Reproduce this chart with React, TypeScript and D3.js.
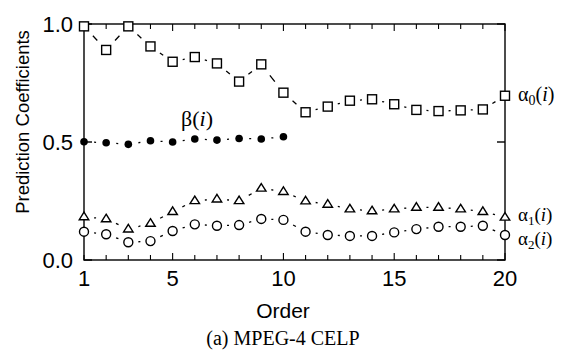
import React from "react";
import * as d3 from "d3";

const orders = [1, 2, 3, 4, 5, 6, 7, 8, 9, 10, 11, 12, 13, 14, 15, 16, 17, 18, 19, 20];
const alpha0 = [0.99, 0.89, 0.99, 0.905, 0.84, 0.86, 0.833, 0.756, 0.829, 0.709, 0.626, 0.65, 0.675, 0.681, 0.66, 0.636, 0.631, 0.634, 0.638, 0.696];
const alpha1 = [0.183, 0.174, 0.131, 0.155, 0.205, 0.251, 0.258, 0.251, 0.304, 0.29, 0.25, 0.236, 0.216, 0.208, 0.216, 0.223, 0.223, 0.216, 0.205, 0.181];
const alpha2 = [0.12, 0.109, 0.075, 0.08, 0.123, 0.151, 0.145, 0.148, 0.174, 0.17, 0.12, 0.106, 0.102, 0.102, 0.117, 0.131, 0.141, 0.141, 0.145, 0.106];
const betaOrders = [1, 2, 3, 4, 5, 6, 7, 8, 9, 10];
const beta = [0.501, 0.497, 0.49, 0.505, 0.5, 0.513, 0.508, 0.515, 0.513, 0.522];
const xTickLabels = [1, 5, 10, 15, 20];
const yTickLabels = [0.0, 0.5, 1.0];

const W = 563;
const H = 356;
const left = 84;
const right = 505;
const top = 24;
const bottom = 260;

const SANS = "'Liberation Sans', Arial, Helvetica, sans-serif";
const SERIF = "'Liberation Serif', 'Times New Roman', serif";

export default function App() {
  const x = d3.scaleLinear().domain([1, 20]).range([left, right]);
  const y = d3.scaleLinear().domain([0, 1]).range([bottom, top]);

  const connectors = (xs: number[], ys: number[], key: string) => {
    const segs: JSX.Element[] = [];
    for (let i = 0; i < xs.length - 1; i++) {
      const x1 = x(xs[i]);
      const y1 = y(ys[i]);
      const x2 = x(xs[i + 1]);
      const y2 = y(ys[i + 1]);
      const L = Math.hypot(x2 - x1, y2 - y1);
      const dash = Math.max(2, 2 + (L - 22.5) * 0.45);
      const gap = (L - dash) / 2;
      segs.push(
        <line
          key={key + i}
          x1={x1}
          y1={y1}
          x2={x2}
          y2={y2}
          stroke="#000"
          strokeWidth={1.3}
          strokeDasharray={`0 ${gap} ${dash} ${L}`}
        />
      );
    }
    return segs;
  };

  const sq = 9;
  const triPath = (cx: number, cy: number) => {
    const s = 9.5;
    const h = s * 0.8;
    return `M${cx},${cy - h * 0.62} L${cx + s / 2},${cy + h * 0.38} L${cx - s / 2},${cy + h * 0.38} Z`;
  };

  const minorTicks = d3.range(1, 21);

  return (
    <svg
      width={W}
      height={H}
      style={{ position: "absolute", left: 0, top: 0, background: "#fff" }}
    >
      <rect x={0} y={0} width={W} height={H} fill="#fff" />
      {/* frame */}
      <rect x={left} y={top} width={right - left} height={bottom - top} fill="none" stroke="#000" strokeWidth={1.4} />
      {/* x ticks bottom & top */}
      {minorTicks.map((t) => {
        const major = t % 5 === 0;
        const len = major ? 7 : 5;
        return (
          <g key={"xt" + t}>
            <line x1={x(t)} x2={x(t)} y1={bottom} y2={bottom - len} stroke="#000" strokeWidth={1.1} />
            <line x1={x(t)} x2={x(t)} y1={top} y2={top + len} stroke="#000" strokeWidth={1.1} />
          </g>
        );
      })}
      {/* y ticks */}
      {yTickLabels.map((t) => (
        <g key={"yt" + t}>
          <line x1={left} x2={left + 8} y1={y(t)} y2={y(t)} stroke="#000" strokeWidth={1.4} />
          <line x1={right} x2={right - 8} y1={y(t)} y2={y(t)} stroke="#000" strokeWidth={1.4} />
        </g>
      ))}
      {/* tick labels */}
      {xTickLabels.map((t) => (
        <text key={"xl" + t} x={x(t)} y={286} textAnchor="middle" fontFamily={SANS} fontSize={22}>
          {t}
        </text>
      ))}
      {yTickLabels.map((t) => (
        <text key={"yl" + t} x={73} y={y(t) + 8} textAnchor="end" fontFamily={SANS} fontSize={22}>
          {t.toFixed(1)}
        </text>
      ))}
      {/* axis titles */}
      <text x={283} y={318} textAnchor="middle" fontFamily={SANS} fontSize={21}>
        Order
      </text>
      <text
        transform={`translate(29,${122}) rotate(-90)`}
        textAnchor="middle"
        fontFamily={SANS}
        fontSize={18.5}
      >
        Prediction Coefficients
      </text>
      <text x={283} y={345} textAnchor="middle" fontFamily={SERIF} fontSize={20}>
        (a) MPEG-4 CELP
      </text>

      {/* connectors */}
      {connectors(orders, alpha0, "a0")}
      {connectors(orders, alpha1, "a1")}
      {connectors(orders, alpha2, "a2")}
      {connectors(betaOrders, beta, "b")}

      {/* markers */}
      {orders.map((o, i) => (
        <rect
          key={"s" + o}
          x={x(o) - sq / 2}
          y={y(alpha0[i]) - sq / 2}
          width={sq}
          height={sq}
          fill="#fff"
          stroke="#000"
          strokeWidth={1.4}
        />
      ))}
      {orders.map((o, i) => (
        <path key={"t" + o} d={triPath(x(o), y(alpha1[i]))} fill="#fff" stroke="#000" strokeWidth={1.4} />
      ))}
      {orders.map((o, i) => (
        <circle key={"c" + o} cx={x(o)} cy={y(alpha2[i])} r={4.5} fill="#fff" stroke="#000" strokeWidth={1.4} />
      ))}
      {betaOrders.map((o, i) => (
        <circle key={"b" + o} cx={x(o)} cy={y(beta[i])} r={3.8} fill="#000" />
      ))}

      {/* series labels */}
      <text x={518} y={101} fontFamily={SERIF} fontSize={20}>
        α<tspan fontSize={14} dy={4}>0</tspan>
        <tspan dy={-4}>(</tspan>
        <tspan fontStyle="italic">i</tspan>)
      </text>
      <text x={518} y={221} fontFamily={SERIF} fontSize={19}>
        α<tspan fontSize={13} dy={4}>1</tspan>
        <tspan dy={-4}>(</tspan>
        <tspan fontStyle="italic">i</tspan>)
      </text>
      <text x={518} y={245} fontFamily={SERIF} fontSize={19}>
        α<tspan fontSize={13} dy={4}>2</tspan>
        <tspan dy={-4}>(</tspan>
        <tspan fontStyle="italic">i</tspan>)
      </text>
      <text x={181} y={126} fontFamily={SERIF} fontSize={22}>
        β(<tspan fontStyle="italic">i</tspan>)
      </text>
    </svg>
  );
}
